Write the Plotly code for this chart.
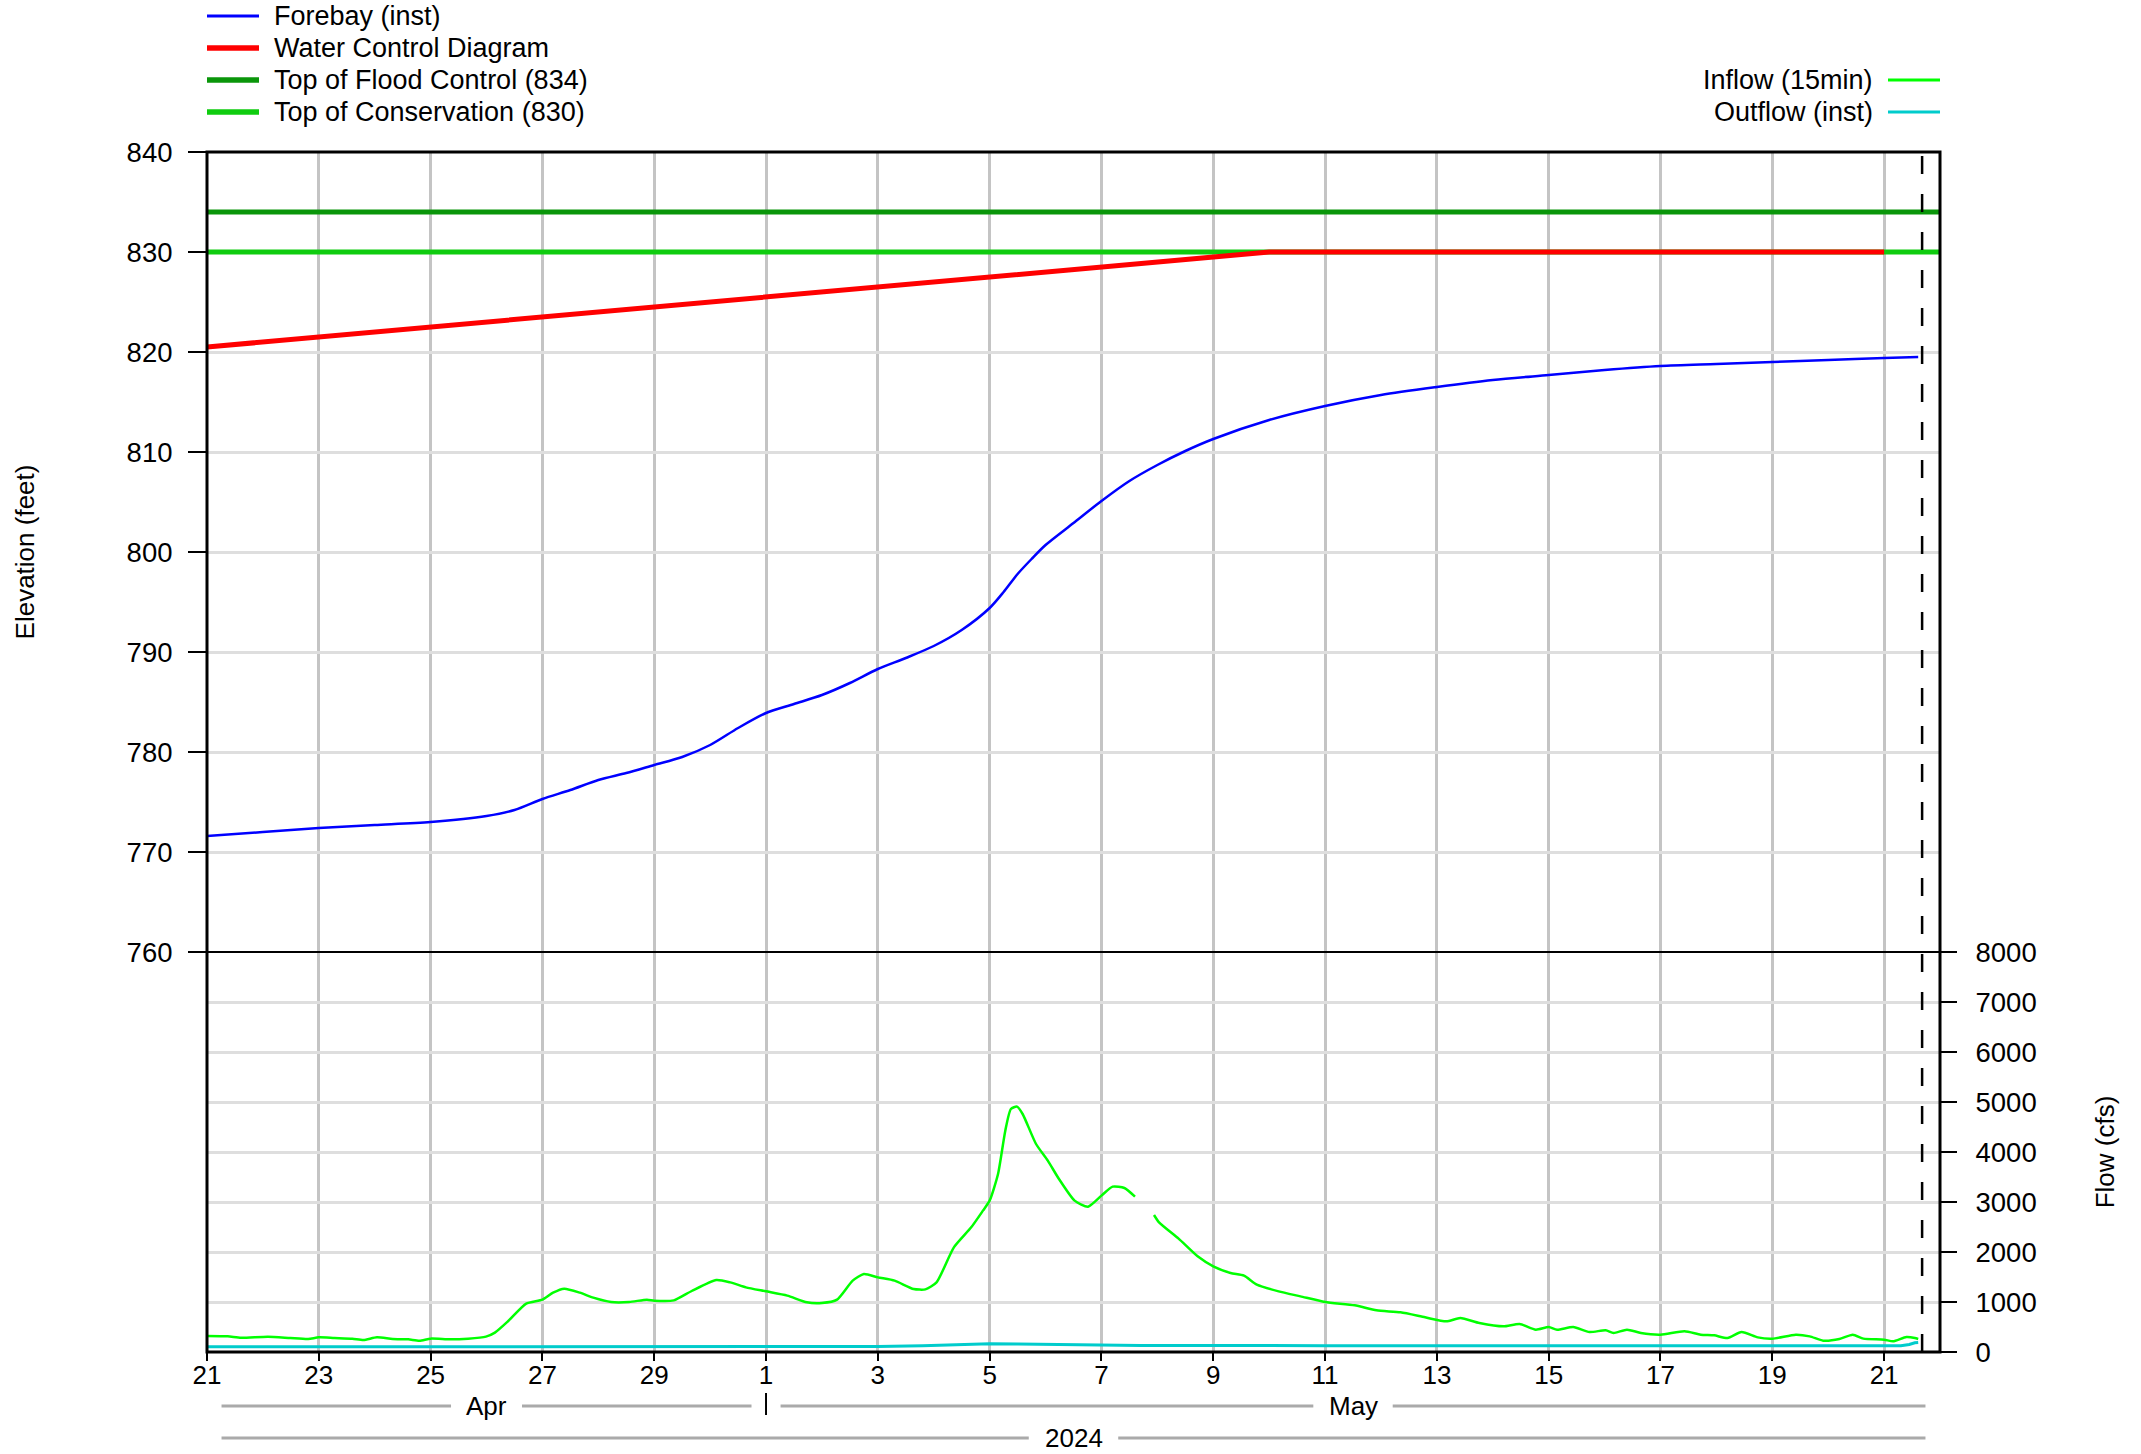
import pandas as pd
import plotly.graph_objects as go

FONT = "Liberation Sans, Arial, sans-serif"

START = "2024-04-21"
END = "2024-05-22"
NOW_DAY = 30.68  # current-time marker (days after START)

# ---------------- data (x = days after 2024-04-21 00:00) ----------------
forebay_day = [0, 1, 2, 3, 4, 5, 5.5, 6, 6.5, 7, 7.5, 8, 8.5, 9, 9.5, 10, 10.5, 11, 11.5,
               12, 12.5, 13, 13.5, 14, 14.25, 14.5, 14.75, 15, 15.5, 16, 16.5, 17, 17.5,
               18, 19, 20, 21, 22, 23, 24, 25, 26, 27, 28, 29, 30, 30.61]
forebay_ft = [771.6, 772.0, 772.4, 772.7, 773.0, 773.6, 774.2, 775.3, 776.2, 777.2, 777.9,
              778.7, 779.5, 780.7, 782.4, 783.9, 784.8, 785.7, 786.9, 788.3, 789.4, 790.6,
              792.2, 794.4, 796.0, 797.8, 799.3, 800.7, 802.9, 805.1, 807.1, 808.7, 810.1,
              811.3, 813.2, 814.6, 815.7, 816.5, 817.2, 817.7, 818.2, 818.6, 818.8, 819.0,
              819.2, 819.4, 819.5]

wcd_day = [0, 19, 30]
wcd_ft = [820.5, 830, 830]

flood_day = [0, 31]
flood_ft = [834, 834]

cons_day = [0, 31]
cons_ft = [830, 830]

inflow_day = [0, 0.37, 0.61, 1.09, 1.49, 1.81, 2.0, 2.28, 2.6, 2.8, 3.04, 3.32, 3.6, 3.8, 4.0,
              4.35, 4.67, 4.99, 5.15, 5.39, 5.71, 6.0, 6.19, 6.39, 6.67, 6.91, 7.23, 7.55,
              7.87, 8.0, 8.35, 8.67, 9.11, 9.36, 9.64, 10.0, 10.38, 10.73, 11.0, 11.27,
              11.55, 11.75, 12.0, 12.3, 12.64, 12.85, 13.05, 13.36, 13.67, 13.88, 14.0,
              14.15, 14.28, 14.38, 14.49, 14.59, 14.83, 15.04, 15.24, 15.52, 15.76, 16.0,
              16.2, 16.41, 16.6, 16.77, 16.94, 17.03, 17.38, 17.72, 18.0, 18.31, 18.55,
              18.78, 19.17, 19.56, 20.0, 20.53, 20.92, 21.35, 21.79, 22.17, 22.42, 22.76,
              23.19, 23.48, 23.77, 24.0, 24.15, 24.44, 24.73, 25.02, 25.16, 25.4, 25.65,
              26.0, 26.43, 26.72, 26.96, 27.2, 27.45, 27.74, 28.0, 28.42, 28.67, 28.91,
              29.2, 29.44, 29.63, 30.0, 30.16, 30.4, 30.55, 30.61]
inflow_cfs = [320, 313, 287, 307, 280, 260, 293, 280, 267, 240, 293, 260, 253, 227, 267,
              253, 267, 307, 387, 620, 967, 1047, 1187, 1267, 1187, 1087, 1000, 1000,
              1047, 1027, 1033, 1220, 1440, 1393, 1293, 1213, 1127, 993, 980, 1047,
              1427, 1560, 1493, 1427, 1260, 1253, 1393, 2093, 2493, 2827, 3027,
              3560, 4427, 4860, 4907, 4760, 4160, 3827, 3460, 3027, 2907, 3127,
              3307, 3280, 3107, None, 2740, 2593, 2267, 1913, 1713, 1580, 1527,
              1347, 1213, 1113, 1000, 933, 833, 793, 693, 613, 680, 580,
              513, 560, 447, 500, 447, 500, 400, 433, 380, 447, 380,
              347, 413, 347, 333, 280, 400, 293, 267, 347, 313, 227,
              260, 347, 267, 247, 213, 300, 280, 260]

outflow_day = [0, 5, 10, 12, 12.8, 13.3, 13.8, 14.0, 14.5, 15.5, 16.5, 16.7, 20, 25, 30.3,
               30.45, 30.55, 30.61]
outflow_cfs = [105, 105, 108, 110, 125, 140, 160, 165, 160, 150, 145, 130, 127, 127, 127,
               150, 185, 190]

# month / year band labels: (label, start day, end day, half-gap in days)
month_bands = [("Apr", 0, 10, 0.635), ("May", 10, 31, 0.71)]
year_bands = [("2024", 0, 31, 0.80)]
month_separators = [10]

# series styles / legend entries
S_FOREBAY = dict(name="Forebay (inst)", color="#0000ff", width=2.5)
S_WCD = dict(name="Water Control Diagram", color="#ff0000", width=5)
S_FLOOD = dict(name="Top of Flood Control (834)", color="#0a960a", width=5)
S_CONS = dict(name="Top of Conservation (830)", color="#0fcc0f", width=5)
S_INFLOW = dict(name="Inflow (15min)", color="#00ff00", width=2.5)
S_OUTFLOW = dict(name="Outflow (inst)", color="#00cccc", width=3)

base = pd.Timestamp(START)


def t(days):
    return [base + pd.Timedelta(days=d) for d in days]


def t1(d):
    return base + pd.Timedelta(days=d)


fig = go.Figure()


def add(xd, yv, s, axis, **kw):
    fig.add_trace(go.Scatter(x=t(xd), y=yv, mode="lines", name=s["name"],
                             line=dict(color=s["color"], width=s["width"], **kw.pop("line", {})),
                             showlegend=False, yaxis=axis, **kw))


add(flood_day, flood_ft, S_FLOOD, "y")
add(cons_day, cons_ft, S_CONS, "y")
add(wcd_day, wcd_ft, S_WCD, "y")
add(forebay_day, forebay_ft, S_FOREBAY, "y", line=dict(shape="spline", smoothing=0.8))
add(outflow_day, outflow_cfs, S_OUTFLOW, "y2")
add(inflow_day, inflow_cfs, S_INFLOW, "y2", line=dict(shape="spline", smoothing=0.6),
    connectgaps=False)

PLOT_L, PLOT_R = 207, 1940
PLOT_TOP, PLOT_BOTTOM = 152, 1352
PLOT_W = PLOT_R - PLOT_L
PLOT_H = PLOT_BOTTOM - PLOT_TOP


def py(px):
    return (PLOT_BOTTOM - px) / PLOT_H


def pxx(px):
    return (px - PLOT_L) / PLOT_W


shapes = []
annotations = []

# frame and pane divider
shapes.append(dict(type="rect", xref="paper", yref="paper", x0=0, x1=1, y0=0, y1=1,
                   line=dict(color="black", width=3), layer="above"))
shapes.append(dict(type="line", xref="paper", yref="paper", x0=0, x1=1, y0=1/3, y1=1/3,
                   line=dict(color="black", width=2), layer="above"))
# current-time marker
shapes.append(dict(type="line", xref="x", yref="paper", x0=t1(NOW_DAY), x1=t1(NOW_DAY), y0=0, y1=1,
                   line=dict(color="black", width=2.5, dash="18px,20px"), layer="above"))

INSET = 0.26
GRAY = "#aaaaaa"


def band(label, d0, d1, half, ypx):
    c = (d0 + d1) / 2
    yv = py(ypx)
    shapes.append(dict(type="line", xref="x", yref="paper", x0=t1(d0 + INSET), x1=t1(c - half),
                       y0=yv, y1=yv, line=dict(color=GRAY, width=3)))
    shapes.append(dict(type="line", xref="x", yref="paper", x0=t1(c + half), x1=t1(d1 - INSET),
                       y0=yv, y1=yv, line=dict(color=GRAY, width=3)))
    annotations.append(dict(text=label, xref="x", yref="paper", x=t1(c), y=yv, showarrow=False,
                            xanchor="center", yanchor="middle", font=dict(size=26)))


for lab, d0, d1, h in month_bands:
    band(lab, d0, d1, h, 1406)
for lab, d0, d1, h in year_bands:
    band(lab, d0, d1, h, 1438)
for d in month_separators:
    shapes.append(dict(type="line", xref="x", yref="paper", x0=t1(d), x1=t1(d),
                       y0=py(1393), y1=py(1415), line=dict(color="black", width=2)))

LEG_FONT = 27
# left legend: line sample then text
for s, ypx in [(S_FOREBAY, 16), (S_WCD, 48), (S_FLOOD, 80), (S_CONS, 112)]:
    shapes.append(dict(type="line", xref="paper", yref="paper", x0=pxx(207), x1=pxx(259),
                       y0=py(ypx), y1=py(ypx), line=dict(color=s["color"], width=s["width"] + 0.5)))
    annotations.append(dict(text=s["name"], xref="paper", yref="paper", x=pxx(272), y=py(ypx),
                            xanchor="left", yanchor="middle", showarrow=False,
                            font=dict(size=LEG_FONT)))
# right legend: text then line sample
for s, ypx in [(S_INFLOW, 80), (S_OUTFLOW, 112)]:
    annotations.append(dict(text=s["name"], xref="paper", yref="paper", x=pxx(1875), y=py(ypx),
                            xanchor="right", yanchor="middle", showarrow=False,
                            font=dict(size=LEG_FONT)))
    shapes.append(dict(type="line", xref="paper", yref="paper", x0=pxx(1888), x1=pxx(1940),
                       y0=py(ypx), y1=py(ypx), line=dict(color=s["color"], width=3)))

fig.update_layout(
    width=2141, height=1454,
    margin=dict(l=207, r=201, t=152, b=102, autoexpand=False),
    plot_bgcolor="white", paper_bgcolor="white",
    font=dict(family=FONT, size=26, color="black"),
    showlegend=False,
    xaxis=dict(type="date", range=[START, END], anchor="y2", tick0=START, dtick=2 * 86400000,
               tickformat="%-d", ticks="outside", ticklen=8, tickwidth=2, tickcolor="black",
               showgrid=True, gridcolor="#c4c4c4", gridwidth=2.5, showline=False, zeroline=False,
               ticklabelstandoff=-8, tickfont=dict(size=26)),
    yaxis=dict(domain=[1/3, 1], range=[760, 840], tick0=760, dtick=10, ticks="outside",
               ticklen=18, tickwidth=2, tickcolor="black", showgrid=True, gridcolor="#dedede",
               gridwidth=2.5, showline=False, zeroline=False, ticklabelstandoff=10,
               tickfont=dict(size=27.5),
               title=dict(text="Elevation (feet)", standoff=84, font=dict(size=26))),
    yaxis2=dict(domain=[0, 1/3], range=[0, 8000], tick0=0, dtick=1000, side="right", anchor="x",
                ticks="outside", ticklen=16, tickwidth=2, tickcolor="black", showgrid=True,
                gridcolor="#dedede", gridwidth=2.5, showline=False, zeroline=False,
                ticklabelstandoff=13, tickfont=dict(size=27.5),
                title=dict(text="Flow (cfs)", standoff=60, font=dict(size=26))),
    shapes=shapes,
    annotations=annotations,
)

fig.write_html("out.html", config={"displayModeBar": False},
               post_script="document.body.style.margin='0px';")
